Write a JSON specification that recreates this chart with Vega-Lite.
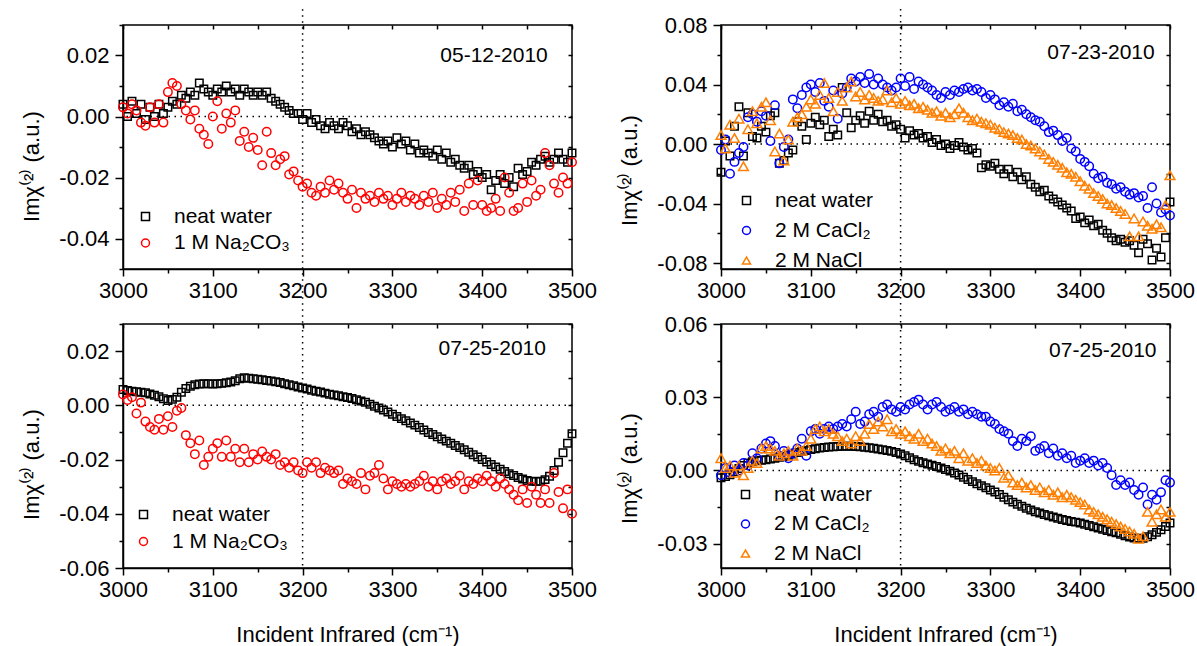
{
"$schema":"https://vega.github.io/schema/vega-lite/v6.json",
"background":"white",
"padding":{"left":19,"top":7,"right":0,"bottom":0},
"config":{"view":{"stroke":"black","strokeWidth":1.5},"font":"Liberation Sans",
"axis":{"labelFont":"Liberation Sans","titleFont":"Liberation Sans","labelFontSize":22,"titleFontSize":22,"titleFontWeight":"normal","labelColor":"black","titleColor":"black","tickColor":"black","domainColor":"black","tickWidth":1.5,"domainWidth":1.5,"grid":false,"labelFlush":false,"labelOverlap":false},
"legend":{"labelFont":"Liberation Sans","labelFontSize":21,"labelColor":"black","padding":0,"symbolStrokeWidth":1.5,"symbolSize":64,"labelOffset":18,"labelLimit":400}},
"datasets":{
"a_w":[{"x":3000,"y":0.004},{"x":3005,"y":0.000},{"x":3010,"y":0.005},{"x":3015,"y":0.001},{"x":3020,"y":0.004},{"x":3025,"y":-0.001},{"x":3030,"y":0.003},{"x":3035,"y":0.000},{"x":3040,"y":0.004},{"x":3045,"y":0.001},{"x":3050,"y":0.003},{"x":3055,"y":0.005},{"x":3060,"y":0.004},{"x":3065,"y":0.007},{"x":3070,"y":0.006},{"x":3075,"y":0.008},{"x":3080,"y":0.007},{"x":3085,"y":0.011},{"x":3090,"y":0.009},{"x":3095,"y":0.008},{"x":3100,"y":0.007},{"x":3105,"y":0.009},{"x":3110,"y":0.008},{"x":3115,"y":0.010},{"x":3120,"y":0.008},{"x":3125,"y":0.009},{"x":3130,"y":0.007},{"x":3135,"y":0.009},{"x":3140,"y":0.008},{"x":3145,"y":0.007},{"x":3150,"y":0.008},{"x":3155,"y":0.007},{"x":3160,"y":0.008},{"x":3165,"y":0.006},{"x":3170,"y":0.005},{"x":3175,"y":0.004},{"x":3180,"y":0.003},{"x":3185,"y":0.002},{"x":3190,"y":0.001},{"x":3195,"y":0.001},{"x":3200,"y":-0.001},{"x":3205,"y":0.001},{"x":3210,"y":-0.002},{"x":3215,"y":-0.001},{"x":3220,"y":-0.003},{"x":3225,"y":-0.004},{"x":3230,"y":-0.002},{"x":3235,"y":-0.003},{"x":3240,"y":-0.004},{"x":3245,"y":-0.002},{"x":3250,"y":-0.003},{"x":3255,"y":-0.005},{"x":3260,"y":-0.004},{"x":3265,"y":-0.006},{"x":3270,"y":-0.005},{"x":3275,"y":-0.006},{"x":3280,"y":-0.007},{"x":3285,"y":-0.008},{"x":3290,"y":-0.009},{"x":3295,"y":-0.008},{"x":3300,"y":-0.010},{"x":3305,"y":-0.007},{"x":3310,"y":-0.009},{"x":3315,"y":-0.008},{"x":3320,"y":-0.011},{"x":3325,"y":-0.009},{"x":3330,"y":-0.012},{"x":3335,"y":-0.011},{"x":3340,"y":-0.012},{"x":3345,"y":-0.013},{"x":3350,"y":-0.011},{"x":3355,"y":-0.014},{"x":3360,"y":-0.012},{"x":3365,"y":-0.015},{"x":3370,"y":-0.014},{"x":3375,"y":-0.016},{"x":3380,"y":-0.017},{"x":3385,"y":-0.016},{"x":3390,"y":-0.019},{"x":3395,"y":-0.018},{"x":3400,"y":-0.020},{"x":3405,"y":-0.019},{"x":3410,"y":-0.024},{"x":3415,"y":-0.021},{"x":3420,"y":-0.019},{"x":3425,"y":-0.022},{"x":3430,"y":-0.020},{"x":3435,"y":-0.023},{"x":3440,"y":-0.017},{"x":3445,"y":-0.019},{"x":3450,"y":-0.018},{"x":3455,"y":-0.015},{"x":3460,"y":-0.016},{"x":3465,"y":-0.014},{"x":3470,"y":-0.013},{"x":3475,"y":-0.015},{"x":3480,"y":-0.014},{"x":3485,"y":-0.012},{"x":3490,"y":-0.014},{"x":3495,"y":-0.015},{"x":3500,"y":-0.012}],
"a_c":[{"x":3000,"y":0.003},{"x":3005,"y":0.001},{"x":3010,"y":0.004},{"x":3015,"y":0.002},{"x":3020,"y":-0.002},{"x":3025,"y":-0.003},{"x":3030,"y":0.003},{"x":3035,"y":-0.002},{"x":3040,"y":0.004},{"x":3045,"y":-0.002},{"x":3050,"y":0.008},{"x":3055,"y":0.011},{"x":3060,"y":0.010},{"x":3065,"y":0.004},{"x":3070,"y":0.002},{"x":3075,"y":-0.001},{"x":3080,"y":0.002},{"x":3085,"y":-0.004},{"x":3090,"y":-0.006},{"x":3095,"y":-0.009},{"x":3100,"y":0.000},{"x":3105,"y":0.005},{"x":3110,"y":-0.004},{"x":3115,"y":0.001},{"x":3120,"y":-0.002},{"x":3125,"y":0.002},{"x":3130,"y":-0.008},{"x":3135,"y":-0.005},{"x":3140,"y":-0.010},{"x":3145,"y":-0.007},{"x":3150,"y":-0.011},{"x":3155,"y":-0.016},{"x":3160,"y":-0.005},{"x":3165,"y":-0.012},{"x":3170,"y":-0.016},{"x":3175,"y":-0.014},{"x":3180,"y":-0.013},{"x":3185,"y":-0.019},{"x":3190,"y":-0.018},{"x":3195,"y":-0.021},{"x":3200,"y":-0.023},{"x":3205,"y":-0.022},{"x":3210,"y":-0.025},{"x":3215,"y":-0.026},{"x":3220,"y":-0.023},{"x":3225,"y":-0.025},{"x":3230,"y":-0.021},{"x":3235,"y":-0.024},{"x":3240,"y":-0.022},{"x":3245,"y":-0.025},{"x":3250,"y":-0.027},{"x":3255,"y":-0.024},{"x":3260,"y":-0.030},{"x":3265,"y":-0.025},{"x":3270,"y":-0.027},{"x":3275,"y":-0.026},{"x":3280,"y":-0.028},{"x":3285,"y":-0.025},{"x":3290,"y":-0.027},{"x":3295,"y":-0.026},{"x":3300,"y":-0.029},{"x":3305,"y":-0.027},{"x":3310,"y":-0.025},{"x":3315,"y":-0.028},{"x":3320,"y":-0.026},{"x":3325,"y":-0.027},{"x":3330,"y":-0.029},{"x":3335,"y":-0.026},{"x":3340,"y":-0.028},{"x":3345,"y":-0.025},{"x":3350,"y":-0.030},{"x":3355,"y":-0.027},{"x":3360,"y":-0.029},{"x":3365,"y":-0.025},{"x":3370,"y":-0.028},{"x":3375,"y":-0.024},{"x":3380,"y":-0.031},{"x":3385,"y":-0.022},{"x":3390,"y":-0.029},{"x":3395,"y":-0.021},{"x":3400,"y":-0.029},{"x":3405,"y":-0.031},{"x":3410,"y":-0.030},{"x":3415,"y":-0.027},{"x":3420,"y":-0.031},{"x":3425,"y":-0.020},{"x":3430,"y":-0.025},{"x":3435,"y":-0.031},{"x":3440,"y":-0.030},{"x":3445,"y":-0.022},{"x":3450,"y":-0.028},{"x":3455,"y":-0.021},{"x":3460,"y":-0.026},{"x":3465,"y":-0.024},{"x":3470,"y":-0.012},{"x":3475,"y":-0.016},{"x":3480,"y":-0.022},{"x":3485,"y":-0.025},{"x":3490,"y":-0.020},{"x":3495,"y":-0.022},{"x":3500,"y":-0.015}],
"b_w":[{"x":3000,"y":-0.019},{"x":3005,"y":0.002},{"x":3010,"y":-0.008},{"x":3015,"y":0.012},{"x":3020,"y":0.025},{"x":3025,"y":-0.008},{"x":3030,"y":0.021},{"x":3035,"y":0.005},{"x":3040,"y":0.004},{"x":3045,"y":0.012},{"x":3050,"y":0.008},{"x":3055,"y":0.019},{"x":3060,"y":0.021},{"x":3065,"y":-0.013},{"x":3070,"y":-0.011},{"x":3075,"y":-0.006},{"x":3080,"y":-0.004},{"x":3085,"y":0.015},{"x":3090,"y":0.012},{"x":3095,"y":0.003},{"x":3100,"y":0.014},{"x":3105,"y":0.018},{"x":3110,"y":0.013},{"x":3115,"y":0.016},{"x":3120,"y":0.005},{"x":3125,"y":0.010},{"x":3130,"y":0.006},{"x":3135,"y":0.038},{"x":3140,"y":0.021},{"x":3145,"y":0.011},{"x":3150,"y":0.016},{"x":3155,"y":0.019},{"x":3160,"y":0.014},{"x":3165,"y":0.022},{"x":3170,"y":0.016},{"x":3175,"y":0.020},{"x":3180,"y":0.015},{"x":3185,"y":0.016},{"x":3190,"y":0.012},{"x":3195,"y":0.013},{"x":3200,"y":0.010},{"x":3205,"y":0.004},{"x":3210,"y":0.009},{"x":3215,"y":0.006},{"x":3220,"y":0.007},{"x":3225,"y":0.004},{"x":3230,"y":0.005},{"x":3235,"y":0.001},{"x":3240,"y":0.003},{"x":3245,"y":-0.001},{"x":3250,"y":0.000},{"x":3255,"y":-0.003},{"x":3260,"y":-0.001},{"x":3265,"y":0.001},{"x":3270,"y":-0.002},{"x":3275,"y":-0.004},{"x":3280,"y":-0.003},{"x":3285,"y":-0.006},{"x":3290,"y":-0.016},{"x":3295,"y":-0.014},{"x":3300,"y":-0.015},{"x":3305,"y":-0.013},{"x":3310,"y":-0.017},{"x":3315,"y":-0.020},{"x":3320,"y":-0.017},{"x":3325,"y":-0.022},{"x":3330,"y":-0.019},{"x":3335,"y":-0.024},{"x":3340,"y":-0.022},{"x":3345,"y":-0.027},{"x":3350,"y":-0.029},{"x":3355,"y":-0.032},{"x":3360,"y":-0.031},{"x":3365,"y":-0.035},{"x":3370,"y":-0.037},{"x":3375,"y":-0.039},{"x":3380,"y":-0.041},{"x":3385,"y":-0.043},{"x":3390,"y":-0.045},{"x":3395,"y":-0.050},{"x":3400,"y":-0.049},{"x":3405,"y":-0.053},{"x":3410,"y":-0.051},{"x":3415,"y":-0.055},{"x":3420,"y":-0.054},{"x":3425,"y":-0.058},{"x":3430,"y":-0.060},{"x":3435,"y":-0.063},{"x":3440,"y":-0.065},{"x":3445,"y":-0.064},{"x":3450,"y":-0.066},{"x":3455,"y":-0.065},{"x":3460,"y":-0.068},{"x":3465,"y":-0.073},{"x":3470,"y":-0.064},{"x":3475,"y":-0.067},{"x":3480,"y":-0.078},{"x":3485,"y":-0.070},{"x":3490,"y":-0.076},{"x":3495,"y":-0.063},{"x":3500,"y":-0.039}],
"b_ca":[{"x":3000,"y":-0.004},{"x":3005,"y":0.003},{"x":3010,"y":-0.020},{"x":3015,"y":-0.012},{"x":3020,"y":-0.006},{"x":3025,"y":-0.002},{"x":3030,"y":0.018},{"x":3035,"y":0.020},{"x":3040,"y":0.015},{"x":3045,"y":0.022},{"x":3050,"y":0.019},{"x":3055,"y":0.002},{"x":3060,"y":0.026},{"x":3065,"y":-0.013},{"x":3070,"y":-0.002},{"x":3075,"y":0.003},{"x":3080,"y":0.030},{"x":3085,"y":0.024},{"x":3090,"y":0.033},{"x":3095,"y":0.038},{"x":3100,"y":0.040},{"x":3105,"y":0.035},{"x":3110,"y":0.041},{"x":3115,"y":0.029},{"x":3120,"y":0.025},{"x":3125,"y":0.036},{"x":3130,"y":0.017},{"x":3135,"y":0.034},{"x":3140,"y":0.038},{"x":3145,"y":0.044},{"x":3150,"y":0.042},{"x":3155,"y":0.045},{"x":3160,"y":0.041},{"x":3165,"y":0.047},{"x":3170,"y":0.040},{"x":3175,"y":0.044},{"x":3180,"y":0.040},{"x":3185,"y":0.038},{"x":3190,"y":0.036},{"x":3195,"y":0.038},{"x":3200,"y":0.044},{"x":3205,"y":0.039},{"x":3210,"y":0.045},{"x":3215,"y":0.037},{"x":3220,"y":0.042},{"x":3225,"y":0.040},{"x":3230,"y":0.038},{"x":3235,"y":0.036},{"x":3240,"y":0.033},{"x":3245,"y":0.031},{"x":3250,"y":0.035},{"x":3255,"y":0.033},{"x":3260,"y":0.036},{"x":3265,"y":0.035},{"x":3270,"y":0.037},{"x":3275,"y":0.038},{"x":3280,"y":0.036},{"x":3285,"y":0.037},{"x":3290,"y":0.035},{"x":3295,"y":0.031},{"x":3300,"y":0.033},{"x":3305,"y":0.030},{"x":3310,"y":0.026},{"x":3315,"y":0.028},{"x":3320,"y":0.025},{"x":3325,"y":0.027},{"x":3330,"y":0.022},{"x":3335,"y":0.023},{"x":3340,"y":0.020},{"x":3345,"y":0.018},{"x":3350,"y":0.016},{"x":3355,"y":0.015},{"x":3360,"y":0.012},{"x":3365,"y":0.008},{"x":3370,"y":0.009},{"x":3375,"y":0.006},{"x":3380,"y":0.002},{"x":3385,"y":0.004},{"x":3390,"y":-0.003},{"x":3395,"y":-0.005},{"x":3400,"y":-0.010},{"x":3405,"y":-0.012},{"x":3410,"y":-0.015},{"x":3415,"y":-0.020},{"x":3420,"y":-0.023},{"x":3425,"y":-0.022},{"x":3430,"y":-0.026},{"x":3435,"y":-0.027},{"x":3440,"y":-0.030},{"x":3445,"y":-0.029},{"x":3450,"y":-0.032},{"x":3455,"y":-0.034},{"x":3460,"y":-0.033},{"x":3465,"y":-0.036},{"x":3470,"y":-0.035},{"x":3475,"y":-0.043},{"x":3480,"y":-0.029},{"x":3485,"y":-0.040},{"x":3490,"y":-0.046},{"x":3495,"y":-0.044},{"x":3500,"y":-0.048}],
"b_na":[{"x":3000,"y":0.006},{"x":3005,"y":-0.003},{"x":3010,"y":0.013},{"x":3015,"y":0.004},{"x":3020,"y":0.017},{"x":3025,"y":-0.015},{"x":3030,"y":0.010},{"x":3035,"y":0.022},{"x":3040,"y":0.014},{"x":3045,"y":0.025},{"x":3050,"y":0.028},{"x":3055,"y":0.016},{"x":3060,"y":-0.005},{"x":3065,"y":0.007},{"x":3070,"y":-0.011},{"x":3075,"y":0.003},{"x":3080,"y":0.015},{"x":3085,"y":0.018},{"x":3090,"y":0.020},{"x":3095,"y":0.025},{"x":3100,"y":0.030},{"x":3105,"y":0.027},{"x":3110,"y":0.033},{"x":3115,"y":0.041},{"x":3120,"y":0.031},{"x":3125,"y":0.022},{"x":3130,"y":0.035},{"x":3135,"y":0.029},{"x":3140,"y":0.038},{"x":3145,"y":0.042},{"x":3150,"y":0.032},{"x":3155,"y":0.035},{"x":3160,"y":0.030},{"x":3165,"y":0.033},{"x":3170,"y":0.031},{"x":3175,"y":0.029},{"x":3180,"y":0.030},{"x":3185,"y":0.036},{"x":3190,"y":0.028},{"x":3195,"y":0.031},{"x":3200,"y":0.027},{"x":3205,"y":0.029},{"x":3210,"y":0.026},{"x":3215,"y":0.027},{"x":3220,"y":0.024},{"x":3225,"y":0.025},{"x":3230,"y":0.023},{"x":3235,"y":0.021},{"x":3240,"y":0.022},{"x":3245,"y":0.019},{"x":3250,"y":0.021},{"x":3255,"y":0.018},{"x":3260,"y":0.020},{"x":3265,"y":0.024},{"x":3270,"y":0.021},{"x":3275,"y":0.018},{"x":3280,"y":0.016},{"x":3285,"y":0.017},{"x":3290,"y":0.015},{"x":3295,"y":0.014},{"x":3300,"y":0.013},{"x":3305,"y":0.011},{"x":3310,"y":0.010},{"x":3315,"y":0.008},{"x":3320,"y":0.007},{"x":3325,"y":0.006},{"x":3330,"y":0.004},{"x":3335,"y":0.003},{"x":3340,"y":0.000},{"x":3345,"y":-0.001},{"x":3350,"y":-0.003},{"x":3355,"y":-0.005},{"x":3360,"y":-0.007},{"x":3365,"y":-0.010},{"x":3370,"y":-0.012},{"x":3375,"y":-0.014},{"x":3380,"y":-0.016},{"x":3385,"y":-0.019},{"x":3390,"y":-0.020},{"x":3395,"y":-0.022},{"x":3400,"y":-0.025},{"x":3405,"y":-0.028},{"x":3410,"y":-0.030},{"x":3415,"y":-0.033},{"x":3420,"y":-0.035},{"x":3425,"y":-0.037},{"x":3430,"y":-0.040},{"x":3435,"y":-0.041},{"x":3440,"y":-0.043},{"x":3445,"y":-0.045},{"x":3450,"y":-0.047},{"x":3455,"y":-0.062},{"x":3460,"y":-0.050},{"x":3465,"y":-0.062},{"x":3470,"y":-0.052},{"x":3475,"y":-0.055},{"x":3480,"y":-0.057},{"x":3485,"y":-0.054},{"x":3490,"y":-0.056},{"x":3495,"y":-0.041},{"x":3500,"y":-0.021}],
"c_w":[{"x":3000,"y":0.0058},{"x":3005,"y":0.0055},{"x":3010,"y":0.0052},{"x":3015,"y":0.0050},{"x":3020,"y":0.0048},{"x":3025,"y":0.0046},{"x":3030,"y":0.0042},{"x":3035,"y":0.0037},{"x":3040,"y":0.0032},{"x":3045,"y":0.0024},{"x":3050,"y":0.0018},{"x":3055,"y":0.0022},{"x":3060,"y":0.0030},{"x":3065,"y":0.0048},{"x":3070,"y":0.0062},{"x":3075,"y":0.0070},{"x":3080,"y":0.0076},{"x":3085,"y":0.0079},{"x":3090,"y":0.0080},{"x":3095,"y":0.0080},{"x":3100,"y":0.0079},{"x":3105,"y":0.0080},{"x":3110,"y":0.0081},{"x":3115,"y":0.0083},{"x":3120,"y":0.0086},{"x":3125,"y":0.0091},{"x":3130,"y":0.0098},{"x":3135,"y":0.0102},{"x":3140,"y":0.0100},{"x":3145,"y":0.0098},{"x":3150,"y":0.0096},{"x":3155,"y":0.0094},{"x":3160,"y":0.0092},{"x":3165,"y":0.0090},{"x":3170,"y":0.0087},{"x":3175,"y":0.0084},{"x":3180,"y":0.0080},{"x":3185,"y":0.0076},{"x":3190,"y":0.0072},{"x":3195,"y":0.0068},{"x":3200,"y":0.0064},{"x":3205,"y":0.0060},{"x":3210,"y":0.0056},{"x":3215,"y":0.0052},{"x":3220,"y":0.0049},{"x":3225,"y":0.0045},{"x":3230,"y":0.0041},{"x":3235,"y":0.0038},{"x":3240,"y":0.0035},{"x":3245,"y":0.0032},{"x":3250,"y":0.0029},{"x":3255,"y":0.0025},{"x":3260,"y":0.0021},{"x":3265,"y":0.0016},{"x":3270,"y":0.0011},{"x":3275,"y":0.0004},{"x":3280,"y":-0.0003},{"x":3285,"y":-0.0010},{"x":3290,"y":-0.0017},{"x":3295,"y":-0.0025},{"x":3300,"y":-0.0033},{"x":3305,"y":-0.0041},{"x":3310,"y":-0.0049},{"x":3315,"y":-0.0057},{"x":3320,"y":-0.0065},{"x":3325,"y":-0.0073},{"x":3330,"y":-0.0082},{"x":3335,"y":-0.0091},{"x":3340,"y":-0.0100},{"x":3345,"y":-0.0108},{"x":3350,"y":-0.0116},{"x":3355,"y":-0.0124},{"x":3360,"y":-0.0132},{"x":3365,"y":-0.0140},{"x":3370,"y":-0.0148},{"x":3375,"y":-0.0156},{"x":3380,"y":-0.0164},{"x":3385,"y":-0.0173},{"x":3390,"y":-0.0182},{"x":3395,"y":-0.0191},{"x":3400,"y":-0.0200},{"x":3405,"y":-0.0209},{"x":3410,"y":-0.0218},{"x":3415,"y":-0.0227},{"x":3420,"y":-0.0236},{"x":3425,"y":-0.0244},{"x":3430,"y":-0.0252},{"x":3435,"y":-0.0259},{"x":3440,"y":-0.0266},{"x":3445,"y":-0.0272},{"x":3450,"y":-0.0277},{"x":3455,"y":-0.0280},{"x":3460,"y":-0.0281},{"x":3465,"y":-0.0280},{"x":3470,"y":-0.0274},{"x":3475,"y":-0.0262},{"x":3480,"y":-0.0240},{"x":3485,"y":-0.0210},{"x":3490,"y":-0.0175},{"x":3495,"y":-0.0140},{"x":3500,"y":-0.0105}],
"c_c":[{"x":3000,"y":0.004},{"x":3005,"y":0.002},{"x":3010,"y":0.003},{"x":3015,"y":-0.003},{"x":3020,"y":0.001},{"x":3025,"y":-0.006},{"x":3030,"y":-0.008},{"x":3035,"y":-0.009},{"x":3040,"y":-0.005},{"x":3045,"y":-0.009},{"x":3050,"y":-0.004},{"x":3055,"y":-0.008},{"x":3060,"y":-0.002},{"x":3065,"y":-0.001},{"x":3070,"y":-0.011},{"x":3075,"y":-0.014},{"x":3080,"y":-0.018},{"x":3085,"y":-0.013},{"x":3090,"y":-0.022},{"x":3095,"y":-0.019},{"x":3100,"y":-0.016},{"x":3105,"y":-0.014},{"x":3110,"y":-0.019},{"x":3115,"y":-0.013},{"x":3120,"y":-0.019},{"x":3125,"y":-0.016},{"x":3130,"y":-0.021},{"x":3135,"y":-0.016},{"x":3140,"y":-0.021},{"x":3145,"y":-0.018},{"x":3150,"y":-0.020},{"x":3155,"y":-0.017},{"x":3160,"y":-0.019},{"x":3165,"y":-0.020},{"x":3170,"y":-0.018},{"x":3175,"y":-0.022},{"x":3180,"y":-0.021},{"x":3185,"y":-0.023},{"x":3190,"y":-0.021},{"x":3195,"y":-0.024},{"x":3200,"y":-0.025},{"x":3205,"y":-0.021},{"x":3210,"y":-0.023},{"x":3215,"y":-0.021},{"x":3220,"y":-0.025},{"x":3225,"y":-0.023},{"x":3230,"y":-0.024},{"x":3235,"y":-0.025},{"x":3240,"y":-0.024},{"x":3245,"y":-0.029},{"x":3250,"y":-0.027},{"x":3255,"y":-0.028},{"x":3260,"y":-0.029},{"x":3265,"y":-0.025},{"x":3270,"y":-0.031},{"x":3275,"y":-0.026},{"x":3280,"y":-0.025},{"x":3285,"y":-0.022},{"x":3290,"y":-0.027},{"x":3295,"y":-0.031},{"x":3300,"y":-0.028},{"x":3305,"y":-0.029},{"x":3310,"y":-0.030},{"x":3315,"y":-0.029},{"x":3320,"y":-0.030},{"x":3325,"y":-0.029},{"x":3330,"y":-0.028},{"x":3335,"y":-0.026},{"x":3340,"y":-0.030},{"x":3345,"y":-0.028},{"x":3350,"y":-0.031},{"x":3355,"y":-0.028},{"x":3360,"y":-0.027},{"x":3365,"y":-0.029},{"x":3370,"y":-0.028},{"x":3375,"y":-0.026},{"x":3380,"y":-0.031},{"x":3385,"y":-0.028},{"x":3390,"y":-0.029},{"x":3395,"y":-0.027},{"x":3400,"y":-0.028},{"x":3405,"y":-0.026},{"x":3410,"y":-0.028},{"x":3415,"y":-0.030},{"x":3420,"y":-0.027},{"x":3425,"y":-0.029},{"x":3430,"y":-0.031},{"x":3435,"y":-0.033},{"x":3440,"y":-0.035},{"x":3445,"y":-0.031},{"x":3450,"y":-0.036},{"x":3455,"y":-0.030},{"x":3460,"y":-0.033},{"x":3465,"y":-0.036},{"x":3470,"y":-0.031},{"x":3475,"y":-0.036},{"x":3480,"y":-0.025},{"x":3485,"y":-0.032},{"x":3490,"y":-0.038},{"x":3495,"y":-0.031},{"x":3500,"y":-0.040}],
"d_w":[{"x":3000,"y":-0.0030},{"x":3005,"y":-0.0025},{"x":3010,"y":-0.0018},{"x":3015,"y":-0.0005},{"x":3020,"y":0.0008},{"x":3025,"y":0.0020},{"x":3030,"y":0.0030},{"x":3035,"y":0.0035},{"x":3040,"y":0.0040},{"x":3045,"y":0.0042},{"x":3050,"y":0.0044},{"x":3055,"y":0.0047},{"x":3060,"y":0.0050},{"x":3065,"y":0.0054},{"x":3070,"y":0.0057},{"x":3075,"y":0.0062},{"x":3080,"y":0.0067},{"x":3085,"y":0.0073},{"x":3090,"y":0.0078},{"x":3095,"y":0.0082},{"x":3100,"y":0.0086},{"x":3105,"y":0.0089},{"x":3110,"y":0.0092},{"x":3115,"y":0.0094},{"x":3120,"y":0.0096},{"x":3125,"y":0.0097},{"x":3130,"y":0.0098},{"x":3135,"y":0.0099},{"x":3140,"y":0.0099},{"x":3145,"y":0.0099},{"x":3150,"y":0.0098},{"x":3155,"y":0.0097},{"x":3160,"y":0.0095},{"x":3165,"y":0.0093},{"x":3170,"y":0.0091},{"x":3175,"y":0.0088},{"x":3180,"y":0.0085},{"x":3185,"y":0.0082},{"x":3190,"y":0.0078},{"x":3195,"y":0.0073},{"x":3200,"y":0.0067},{"x":3205,"y":0.0060},{"x":3210,"y":0.0052},{"x":3215,"y":0.0044},{"x":3220,"y":0.0037},{"x":3225,"y":0.0031},{"x":3230,"y":0.0026},{"x":3235,"y":0.0021},{"x":3240,"y":0.0016},{"x":3245,"y":0.0010},{"x":3250,"y":0.0004},{"x":3255,"y":-0.0003},{"x":3260,"y":-0.0011},{"x":3265,"y":-0.0019},{"x":3270,"y":-0.0028},{"x":3275,"y":-0.0037},{"x":3280,"y":-0.0046},{"x":3285,"y":-0.0055},{"x":3290,"y":-0.0063},{"x":3295,"y":-0.0071},{"x":3300,"y":-0.0080},{"x":3305,"y":-0.0089},{"x":3310,"y":-0.0099},{"x":3315,"y":-0.0110},{"x":3320,"y":-0.0120},{"x":3325,"y":-0.0130},{"x":3330,"y":-0.0139},{"x":3335,"y":-0.0147},{"x":3340,"y":-0.0155},{"x":3345,"y":-0.0162},{"x":3350,"y":-0.0169},{"x":3355,"y":-0.0175},{"x":3360,"y":-0.0181},{"x":3365,"y":-0.0186},{"x":3370,"y":-0.0191},{"x":3375,"y":-0.0196},{"x":3380,"y":-0.0201},{"x":3385,"y":-0.0205},{"x":3390,"y":-0.0209},{"x":3395,"y":-0.0212},{"x":3400,"y":-0.0216},{"x":3405,"y":-0.0221},{"x":3410,"y":-0.0226},{"x":3415,"y":-0.0231},{"x":3420,"y":-0.0236},{"x":3425,"y":-0.0241},{"x":3430,"y":-0.0246},{"x":3435,"y":-0.0251},{"x":3440,"y":-0.0256},{"x":3445,"y":-0.0262},{"x":3450,"y":-0.0268},{"x":3455,"y":-0.0273},{"x":3460,"y":-0.0277},{"x":3465,"y":-0.0279},{"x":3470,"y":-0.0278},{"x":3475,"y":-0.0272},{"x":3480,"y":-0.0264},{"x":3485,"y":-0.0254},{"x":3490,"y":-0.0243},{"x":3495,"y":-0.0230},{"x":3500,"y":-0.0216}],
"d_ca":[{"x":3000,"y":-0.002},{"x":3005,"y":0.001},{"x":3010,"y":-0.001},{"x":3015,"y":0.002},{"x":3020,"y":0.000},{"x":3025,"y":0.003},{"x":3030,"y":0.002},{"x":3035,"y":0.007},{"x":3040,"y":0.005},{"x":3045,"y":0.009},{"x":3050,"y":0.011},{"x":3055,"y":0.012},{"x":3060,"y":0.010},{"x":3065,"y":0.006},{"x":3070,"y":0.008},{"x":3075,"y":0.005},{"x":3080,"y":0.007},{"x":3085,"y":0.009},{"x":3090,"y":0.013},{"x":3095,"y":0.006},{"x":3100,"y":0.016},{"x":3105,"y":0.017},{"x":3110,"y":0.015},{"x":3115,"y":0.017},{"x":3120,"y":0.018},{"x":3125,"y":0.017},{"x":3130,"y":0.018},{"x":3135,"y":0.019},{"x":3140,"y":0.018},{"x":3145,"y":0.021},{"x":3150,"y":0.024},{"x":3155,"y":0.019},{"x":3160,"y":0.020},{"x":3165,"y":0.023},{"x":3170,"y":0.024},{"x":3175,"y":0.022},{"x":3180,"y":0.026},{"x":3185,"y":0.027},{"x":3190,"y":0.025},{"x":3195,"y":0.024},{"x":3200,"y":0.026},{"x":3205,"y":0.025},{"x":3210,"y":0.027},{"x":3215,"y":0.028},{"x":3220,"y":0.029},{"x":3225,"y":0.027},{"x":3230,"y":0.025},{"x":3235,"y":0.027},{"x":3240,"y":0.028},{"x":3245,"y":0.026},{"x":3250,"y":0.024},{"x":3255,"y":0.025},{"x":3260,"y":0.026},{"x":3265,"y":0.024},{"x":3270,"y":0.025},{"x":3275,"y":0.023},{"x":3280,"y":0.024},{"x":3285,"y":0.023},{"x":3290,"y":0.022},{"x":3295,"y":0.022},{"x":3300,"y":0.020},{"x":3305,"y":0.019},{"x":3310,"y":0.017},{"x":3315,"y":0.016},{"x":3320,"y":0.015},{"x":3325,"y":0.012},{"x":3330,"y":0.010},{"x":3335,"y":0.013},{"x":3340,"y":0.012},{"x":3345,"y":0.014},{"x":3350,"y":0.008},{"x":3355,"y":0.009},{"x":3360,"y":0.010},{"x":3365,"y":0.007},{"x":3370,"y":0.009},{"x":3375,"y":0.006},{"x":3380,"y":0.007},{"x":3385,"y":0.005},{"x":3390,"y":0.006},{"x":3395,"y":0.003},{"x":3400,"y":0.004},{"x":3405,"y":0.005},{"x":3410,"y":0.003},{"x":3415,"y":0.004},{"x":3420,"y":0.002},{"x":3425,"y":0.003},{"x":3430,"y":0.001},{"x":3435,"y":-0.002},{"x":3440,"y":-0.006},{"x":3445,"y":-0.004},{"x":3450,"y":-0.006},{"x":3455,"y":-0.005},{"x":3460,"y":-0.008},{"x":3465,"y":-0.010},{"x":3470,"y":-0.007},{"x":3475,"y":-0.014},{"x":3480,"y":-0.010},{"x":3485,"y":-0.012},{"x":3490,"y":-0.009},{"x":3495,"y":-0.004},{"x":3500,"y":-0.005}],
"d_na":[{"x":3000,"y":0.005},{"x":3005,"y":0.001},{"x":3010,"y":0.002},{"x":3015,"y":-0.001},{"x":3020,"y":0.002},{"x":3025,"y":-0.002},{"x":3030,"y":0.001},{"x":3035,"y":0.004},{"x":3040,"y":0.003},{"x":3045,"y":0.009},{"x":3050,"y":0.010},{"x":3055,"y":0.009},{"x":3060,"y":0.008},{"x":3065,"y":0.006},{"x":3070,"y":0.007},{"x":3075,"y":0.008},{"x":3080,"y":0.006},{"x":3085,"y":0.009},{"x":3090,"y":0.008},{"x":3095,"y":0.010},{"x":3100,"y":0.013},{"x":3105,"y":0.017},{"x":3110,"y":0.018},{"x":3115,"y":0.016},{"x":3120,"y":0.017},{"x":3125,"y":0.015},{"x":3130,"y":0.014},{"x":3135,"y":0.012},{"x":3140,"y":0.013},{"x":3145,"y":0.011},{"x":3150,"y":0.014},{"x":3155,"y":0.012},{"x":3160,"y":0.015},{"x":3165,"y":0.019},{"x":3170,"y":0.017},{"x":3175,"y":0.020},{"x":3180,"y":0.018},{"x":3185,"y":0.021},{"x":3190,"y":0.016},{"x":3195,"y":0.017},{"x":3200,"y":0.015},{"x":3205,"y":0.016},{"x":3210,"y":0.014},{"x":3215,"y":0.013},{"x":3220,"y":0.015},{"x":3225,"y":0.012},{"x":3230,"y":0.013},{"x":3235,"y":0.011},{"x":3240,"y":0.010},{"x":3245,"y":0.008},{"x":3250,"y":0.009},{"x":3255,"y":0.007},{"x":3260,"y":0.008},{"x":3265,"y":0.005},{"x":3270,"y":0.007},{"x":3275,"y":0.004},{"x":3280,"y":0.005},{"x":3285,"y":0.003},{"x":3290,"y":0.004},{"x":3295,"y":0.002},{"x":3300,"y":0.001},{"x":3305,"y":0.000},{"x":3310,"y":0.001},{"x":3315,"y":-0.003},{"x":3320,"y":-0.002},{"x":3325,"y":-0.005},{"x":3330,"y":-0.006},{"x":3335,"y":-0.005},{"x":3340,"y":-0.007},{"x":3345,"y":-0.006},{"x":3350,"y":-0.008},{"x":3355,"y":-0.007},{"x":3360,"y":-0.009},{"x":3365,"y":-0.008},{"x":3370,"y":-0.010},{"x":3375,"y":-0.009},{"x":3380,"y":-0.011},{"x":3385,"y":-0.010},{"x":3390,"y":-0.011},{"x":3395,"y":-0.012},{"x":3400,"y":-0.013},{"x":3405,"y":-0.014},{"x":3410,"y":-0.016},{"x":3415,"y":-0.017},{"x":3420,"y":-0.018},{"x":3425,"y":-0.019},{"x":3430,"y":-0.020},{"x":3435,"y":-0.021},{"x":3440,"y":-0.022},{"x":3445,"y":-0.023},{"x":3450,"y":-0.024},{"x":3455,"y":-0.025},{"x":3460,"y":-0.026},{"x":3465,"y":-0.028},{"x":3470,"y":-0.027},{"x":3475,"y":-0.017},{"x":3480,"y":-0.021},{"x":3485,"y":-0.018},{"x":3490,"y":-0.016},{"x":3495,"y":-0.019},{"x":3500,"y":-0.017}]
},
"columns":2,
"spacing":{"row":55,"column":149},
"bounds":"flush",
"resolve":{"scale":{"color":"independent","shape":"independent"}},
"concat":[
{"width":449,"height":244,
"resolve":{"axis":{"x":"independent","y":"independent"}},
"layer":[
{"data":{"values":[{}]},"mark":{"type":"rule","strokeDash":[1.5,4.5],"strokeWidth":1.5,"color":"black"},
"encoding":{"y":{"datum":0,"type":"quantitative","axis":null}}},
{"data":{"values":[{}]},"mark":{"type":"rule","strokeDash":[1.5,4.5],"strokeWidth":1.5,"color":"black"},
"encoding":{
"x":{"datum":3200,"type":"quantitative","scale":{"domain":[3000,3500],"nice":false,"zero":false},"axis":{"orient":"bottom","values":[3000,3050,3100,3150,3200,3250,3300,3350,3400,3450,3500],"labelExpr":"datum.value % 100 === 0 ? format(datum.value, 'd') : ''","tickSize":{"condition":{"test":"datum.value % 100 === 0","value":7},"value":4},"labelPadding":4,"title":null}},
"y":{"datum":0.0352,"type":"quantitative","scale":{"domain":[-0.05,0.03],"nice":false,"zero":false},"axis":{"orient":"left","values":[-0.05,-0.04,-0.03,-0.02,-0.01,0,0.01,0.02,0.03],"labelExpr":"round(datum.value*100) % 2 === 0 ? replace(format(datum.value, '.2f'), '−', '-') : ''","tickSize":{"condition":{"test":"round(datum.value*100) % 2 === 0","value":8},"value":4},"labelPadding":6,"title":"Imχ⁽²⁾ (a.u.)","titleX":-92,"titleY":141,"titleAngle":-90,"titleAlign":"center","titleBaseline":"middle"}},
"y2":{"datum":-0.068}}},
{"data":{"values":[{"date":"05-12-2010"}]},"mark":{"type":"text","align":"right","baseline":"middle","fontSize":21,"font":"Liberation Sans","color":"black"},
"encoding":{
"x":{"datum":3473,"type":"quantitative","scale":{"domain":[3000,3500],"nice":false,"zero":false},"axis":{"orient":"top","values":[3000,3050,3100,3150,3200,3250,3300,3350,3400,3450,3500],"labels":false,"tickSize":-4,"domain":false,"title":null}},
"y":{"datum":0.02,"type":"quantitative","scale":{"domain":[-0.05,0.03],"nice":false,"zero":false},"axis":{"orient":"right","values":[-0.05,-0.04,-0.03,-0.02,-0.01,0,0.01,0.02,0.03],"labels":false,"tickSize":-4,"domain":false,"title":null}},
"text":{"field":"date"}}},
{"data":{"name":"a_w"},"mark":{"type":"point","size":56,"strokeWidth":1.5,"opacity":1},
"encoding":{"x":{"field":"x","type":"quantitative","axis":null},"y":{"field":"y","type":"quantitative","axis":null},
"color":{"datum":"neat water","scale":{"domain":["neat water","1 M Na₂CO₃"],"range":["#000000","#ff0000"]},"legend":{"title":null,"orient":"none","legendX":12,"legendY":181,"rowPadding":4.5}},
"shape":{"datum":"neat water","scale":{"domain":["neat water","1 M Na₂CO₃"],"range":["square","circle"]},"legend":{"title":null,"orient":"none","legendX":12,"legendY":181,"rowPadding":4.5}}}},
{"data":{"name":"a_c"},"mark":{"type":"point","size":72,"strokeWidth":1.5,"opacity":1},
"encoding":{"x":{"field":"x","type":"quantitative","axis":null},"y":{"field":"y","type":"quantitative","axis":null},
"color":{"datum":"1 M Na₂CO₃","scale":{"domain":["neat water","1 M Na₂CO₃"],"range":["#000000","#ff0000"]},"legend":{"title":null,"orient":"none","legendX":12,"legendY":181,"rowPadding":4.5}},
"shape":{"datum":"1 M Na₂CO₃","scale":{"domain":["neat water","1 M Na₂CO₃"],"range":["square","circle"]},"legend":{"title":null,"orient":"none","legendX":12,"legendY":181,"rowPadding":4.5}}}}
]},
{"width":449,"height":244,
"resolve":{"axis":{"x":"independent","y":"independent"}},
"layer":[
{"data":{"values":[{}]},"mark":{"type":"rule","strokeDash":[1.5,4.5],"strokeWidth":1.5,"color":"black"},
"encoding":{"y":{"datum":0,"type":"quantitative","axis":null}}},
{"data":{"values":[{}]},"mark":{"type":"rule","strokeDash":[1.5,4.5],"strokeWidth":1.5,"color":"black"},
"encoding":{
"x":{"datum":3200,"type":"quantitative","scale":{"domain":[3000,3500],"nice":false,"zero":false},"axis":{"orient":"bottom","values":[3000,3050,3100,3150,3200,3250,3300,3350,3400,3450,3500],"labelExpr":"datum.value % 100 === 0 ? format(datum.value, 'd') : ''","tickSize":{"condition":{"test":"datum.value % 100 === 0","value":7},"value":4},"labelPadding":4,"title":null}},
"y":{"datum":0.0908,"type":"quantitative","scale":{"domain":[-0.084,0.08],"nice":false,"zero":false},"axis":{"orient":"left","values":[-0.08,-0.06,-0.04,-0.02,0,0.02,0.04,0.06,0.08],"labelExpr":"round(datum.value*100) % 4 === 0 ? replace(format(datum.value, '.2f'), '−', '-') : ''","tickSize":{"condition":{"test":"round(datum.value*100) % 4 === 0","value":8},"value":4},"labelPadding":6,"title":"Imχ⁽²⁾ (a.u.)","titleX":-92,"titleY":145,"titleAngle":-90,"titleAlign":"center","titleBaseline":"middle"}},
"y2":{"datum":-0.121}}},
{"data":{"values":[{"date":"07-23-2010"}]},"mark":{"type":"text","align":"right","baseline":"middle","fontSize":21,"font":"Liberation Sans","color":"black"},
"encoding":{
"x":{"datum":3483,"type":"quantitative","scale":{"domain":[3000,3500],"nice":false,"zero":false},"axis":{"orient":"top","values":[3000,3050,3100,3150,3200,3250,3300,3350,3400,3450,3500],"labels":false,"tickSize":-4,"domain":false,"title":null}},
"y":{"datum":0.061,"type":"quantitative","scale":{"domain":[-0.084,0.08],"nice":false,"zero":false},"axis":{"orient":"right","values":[-0.08,-0.06,-0.04,-0.02,0,0.02,0.04,0.06,0.08],"labels":false,"tickSize":-4,"domain":false,"title":null}},
"text":{"field":"date"}}},
{"data":{"name":"b_w"},"mark":{"type":"point","size":56,"strokeWidth":1.5,"opacity":1},
"encoding":{"x":{"field":"x","type":"quantitative","axis":null},"y":{"field":"y","type":"quantitative","axis":null},
"color":{"datum":"neat water","scale":{"domain":["neat water","2 M CaCl₂","2 M NaCl"],"range":["#000000","#0000ff","#ff7f00"]},"legend":{"title":null,"orient":"none","legendX":15,"legendY":165,"rowPadding":8}},
"shape":{"datum":"neat water","scale":{"domain":["neat water","2 M CaCl₂","2 M NaCl"],"range":["square","circle","triangle-up"]},"legend":{"title":null,"orient":"none","legendX":15,"legendY":165,"rowPadding":8}}}},
{"data":{"name":"b_ca"},"mark":{"type":"point","size":72,"strokeWidth":1.5,"opacity":1},
"encoding":{"x":{"field":"x","type":"quantitative","axis":null},"y":{"field":"y","type":"quantitative","axis":null},
"color":{"datum":"2 M CaCl₂","scale":{"domain":["neat water","2 M CaCl₂","2 M NaCl"],"range":["#000000","#0000ff","#ff7f00"]},"legend":{"title":null,"orient":"none","legendX":15,"legendY":165,"rowPadding":8}},
"shape":{"datum":"2 M CaCl₂","scale":{"domain":["neat water","2 M CaCl₂","2 M NaCl"],"range":["square","circle","triangle-up"]},"legend":{"title":null,"orient":"none","legendX":15,"legendY":165,"rowPadding":8}}}},
{"data":{"name":"b_na"},"mark":{"type":"point","size":96,"strokeWidth":1.5,"opacity":1},
"encoding":{"x":{"field":"x","type":"quantitative","axis":null},"y":{"field":"y","type":"quantitative","axis":null},
"color":{"datum":"2 M NaCl","scale":{"domain":["neat water","2 M CaCl₂","2 M NaCl"],"range":["#000000","#0000ff","#ff7f00"]},"legend":{"title":null,"orient":"none","legendX":15,"legendY":165,"rowPadding":8}},
"shape":{"datum":"2 M NaCl","scale":{"domain":["neat water","2 M CaCl₂","2 M NaCl"],"range":["square","circle","triangle-up"]},"legend":{"title":null,"orient":"none","legendX":15,"legendY":165,"rowPadding":8}}}}
]},
{"width":449,"height":244,
"resolve":{"axis":{"x":"independent","y":"independent"}},
"layer":[
{"data":{"values":[{}]},"mark":{"type":"rule","strokeDash":[1.5,4.5],"strokeWidth":1.5,"color":"black"},
"encoding":{"y":{"datum":0,"type":"quantitative","axis":null}}},
{"data":{"values":[{}]},"mark":{"type":"rule","strokeDash":[1.5,4.5],"strokeWidth":1.5,"color":"black"},
"encoding":{
"x":{"datum":3200,"type":"quantitative","scale":{"domain":[3000,3500],"nice":false,"zero":false},"axis":{"orient":"bottom","values":[3000,3050,3100,3150,3200,3250,3300,3350,3400,3450,3500],"labelExpr":"datum.value % 100 === 0 ? format(datum.value, 'd') : ''","tickSize":{"condition":{"test":"datum.value % 100 === 0","value":7},"value":4},"labelPadding":4,"title":"Incident Infrared (cm⁻¹)","titleY":66,"titleBaseline":"middle"}},
"y":{"datum":0.03,"type":"quantitative","scale":{"domain":[-0.06,0.03],"nice":false,"zero":false},"axis":{"orient":"left","values":[-0.06,-0.05,-0.04,-0.03,-0.02,-0.01,0,0.01,0.02,0.03],"labelExpr":"round(datum.value*100) % 2 === 0 ? replace(format(datum.value, '.2f'), '−', '-') : ''","tickSize":{"condition":{"test":"round(datum.value*100) % 2 === 0","value":8},"value":4},"labelPadding":6,"title":"Imχ⁽²⁾ (a.u.)","titleX":-92,"titleY":140,"titleAngle":-90,"titleAlign":"center","titleBaseline":"middle"}},
"y2":{"datum":-0.06}}},
{"data":{"values":[{"date":"07-25-2010"}]},"mark":{"type":"text","align":"right","baseline":"middle","fontSize":21,"font":"Liberation Sans","color":"black"},
"encoding":{
"x":{"datum":3471,"type":"quantitative","scale":{"domain":[3000,3500],"nice":false,"zero":false},"axis":{"orient":"top","values":[3000,3050,3100,3150,3200,3250,3300,3350,3400,3450,3500],"labels":false,"tickSize":-4,"domain":false,"title":null}},
"y":{"datum":0.0208,"type":"quantitative","scale":{"domain":[-0.06,0.03],"nice":false,"zero":false},"axis":{"orient":"right","values":[-0.06,-0.05,-0.04,-0.03,-0.02,-0.01,0,0.01,0.02,0.03],"labels":false,"tickSize":-4,"domain":false,"title":null}},
"text":{"field":"date"}}},
{"data":{"name":"c_w"},"mark":{"type":"point","size":56,"strokeWidth":1.5,"opacity":1},
"encoding":{"x":{"field":"x","type":"quantitative","axis":null},"y":{"field":"y","type":"quantitative","axis":null},
"color":{"datum":"neat water","scale":{"domain":["neat water","1 M Na₂CO₃"],"range":["#000000","#ff0000"]},"legend":{"title":null,"orient":"none","legendX":10,"legendY":180,"rowPadding":5}},
"shape":{"datum":"neat water","scale":{"domain":["neat water","1 M Na₂CO₃"],"range":["square","circle"]},"legend":{"title":null,"orient":"none","legendX":10,"legendY":180,"rowPadding":5}}}},
{"data":{"name":"c_c"},"mark":{"type":"point","size":72,"strokeWidth":1.5,"opacity":1},
"encoding":{"x":{"field":"x","type":"quantitative","axis":null},"y":{"field":"y","type":"quantitative","axis":null},
"color":{"datum":"1 M Na₂CO₃","scale":{"domain":["neat water","1 M Na₂CO₃"],"range":["#000000","#ff0000"]},"legend":{"title":null,"orient":"none","legendX":10,"legendY":180,"rowPadding":5}},
"shape":{"datum":"1 M Na₂CO₃","scale":{"domain":["neat water","1 M Na₂CO₃"],"range":["square","circle"]},"legend":{"title":null,"orient":"none","legendX":10,"legendY":180,"rowPadding":5}}}}
]},
{"width":449,"height":244,
"resolve":{"axis":{"x":"independent","y":"independent"}},
"layer":[
{"data":{"values":[{}]},"mark":{"type":"rule","strokeDash":[1.5,4.5],"strokeWidth":1.5,"color":"black"},
"encoding":{"y":{"datum":0,"type":"quantitative","axis":null}}},
{"data":{"values":[{}]},"mark":{"type":"rule","strokeDash":[1.5,4.5],"strokeWidth":1.5,"color":"black"},
"encoding":{
"x":{"datum":3200,"type":"quantitative","scale":{"domain":[3000,3500],"nice":false,"zero":false},"axis":{"orient":"bottom","values":[3000,3050,3100,3150,3200,3250,3300,3350,3400,3450,3500],"labelExpr":"datum.value % 100 === 0 ? format(datum.value, 'd') : ''","tickSize":{"condition":{"test":"datum.value % 100 === 0","value":7},"value":4},"labelPadding":4,"title":"Incident Infrared (cm⁻¹)","titleY":66,"titleBaseline":"middle"}},
"y":{"datum":0.06,"type":"quantitative","scale":{"domain":[-0.04,0.06],"nice":false,"zero":false},"axis":{"orient":"left","values":[-0.03,-0.015,0,0.015,0.03,0.045,0.06],"labelExpr":"round(datum.value*1000) % 30 === 0 ? replace(format(datum.value, '.2f'), '−', '-') : ''","tickSize":{"condition":{"test":"round(datum.value*1000) % 30 === 0","value":8},"value":4},"labelPadding":6,"title":"Imχ⁽²⁾ (a.u.)","titleX":-92,"titleY":144,"titleAngle":-90,"titleAlign":"center","titleBaseline":"middle"}},
"y2":{"datum":-0.04}}},
{"data":{"values":[{"date":"07-25-2010"}]},"mark":{"type":"text","align":"right","baseline":"middle","fontSize":21,"font":"Liberation Sans","color":"black"},
"encoding":{
"x":{"datum":3485,"type":"quantitative","scale":{"domain":[3000,3500],"nice":false,"zero":false},"axis":{"orient":"top","values":[3000,3050,3100,3150,3200,3250,3300,3350,3400,3450,3500],"labels":false,"tickSize":-4,"domain":false,"title":null}},
"y":{"datum":0.0488,"type":"quantitative","scale":{"domain":[-0.04,0.06],"nice":false,"zero":false},"axis":{"orient":"right","values":[-0.03,-0.015,0,0.015,0.03,0.045,0.06],"labels":false,"tickSize":-4,"domain":false,"title":null}},
"text":{"field":"date"}}},
{"data":{"name":"d_w"},"mark":{"type":"point","size":56,"strokeWidth":1.5,"opacity":1},
"encoding":{"x":{"field":"x","type":"quantitative","axis":null},"y":{"field":"y","type":"quantitative","axis":null},
"color":{"datum":"neat water","scale":{"domain":["neat water","2 M CaCl₂","2 M NaCl"],"range":["#000000","#0000ff","#ff7f00"]},"legend":{"title":null,"orient":"none","legendX":14,"legendY":160,"rowPadding":7.5}},
"shape":{"datum":"neat water","scale":{"domain":["neat water","2 M CaCl₂","2 M NaCl"],"range":["square","circle","triangle-up"]},"legend":{"title":null,"orient":"none","legendX":14,"legendY":160,"rowPadding":7.5}}}},
{"data":{"name":"d_ca"},"mark":{"type":"point","size":72,"strokeWidth":1.5,"opacity":1},
"encoding":{"x":{"field":"x","type":"quantitative","axis":null},"y":{"field":"y","type":"quantitative","axis":null},
"color":{"datum":"2 M CaCl₂","scale":{"domain":["neat water","2 M CaCl₂","2 M NaCl"],"range":["#000000","#0000ff","#ff7f00"]},"legend":{"title":null,"orient":"none","legendX":14,"legendY":160,"rowPadding":7.5}},
"shape":{"datum":"2 M CaCl₂","scale":{"domain":["neat water","2 M CaCl₂","2 M NaCl"],"range":["square","circle","triangle-up"]},"legend":{"title":null,"orient":"none","legendX":14,"legendY":160,"rowPadding":7.5}}}},
{"data":{"name":"d_na"},"mark":{"type":"point","size":96,"strokeWidth":1.5,"opacity":1},
"encoding":{"x":{"field":"x","type":"quantitative","axis":null},"y":{"field":"y","type":"quantitative","axis":null},
"color":{"datum":"2 M NaCl","scale":{"domain":["neat water","2 M CaCl₂","2 M NaCl"],"range":["#000000","#0000ff","#ff7f00"]},"legend":{"title":null,"orient":"none","legendX":14,"legendY":160,"rowPadding":7.5}},
"shape":{"datum":"2 M NaCl","scale":{"domain":["neat water","2 M CaCl₂","2 M NaCl"],"range":["square","circle","triangle-up"]},"legend":{"title":null,"orient":"none","legendX":14,"legendY":160,"rowPadding":7.5}}}}
]}
]
}
